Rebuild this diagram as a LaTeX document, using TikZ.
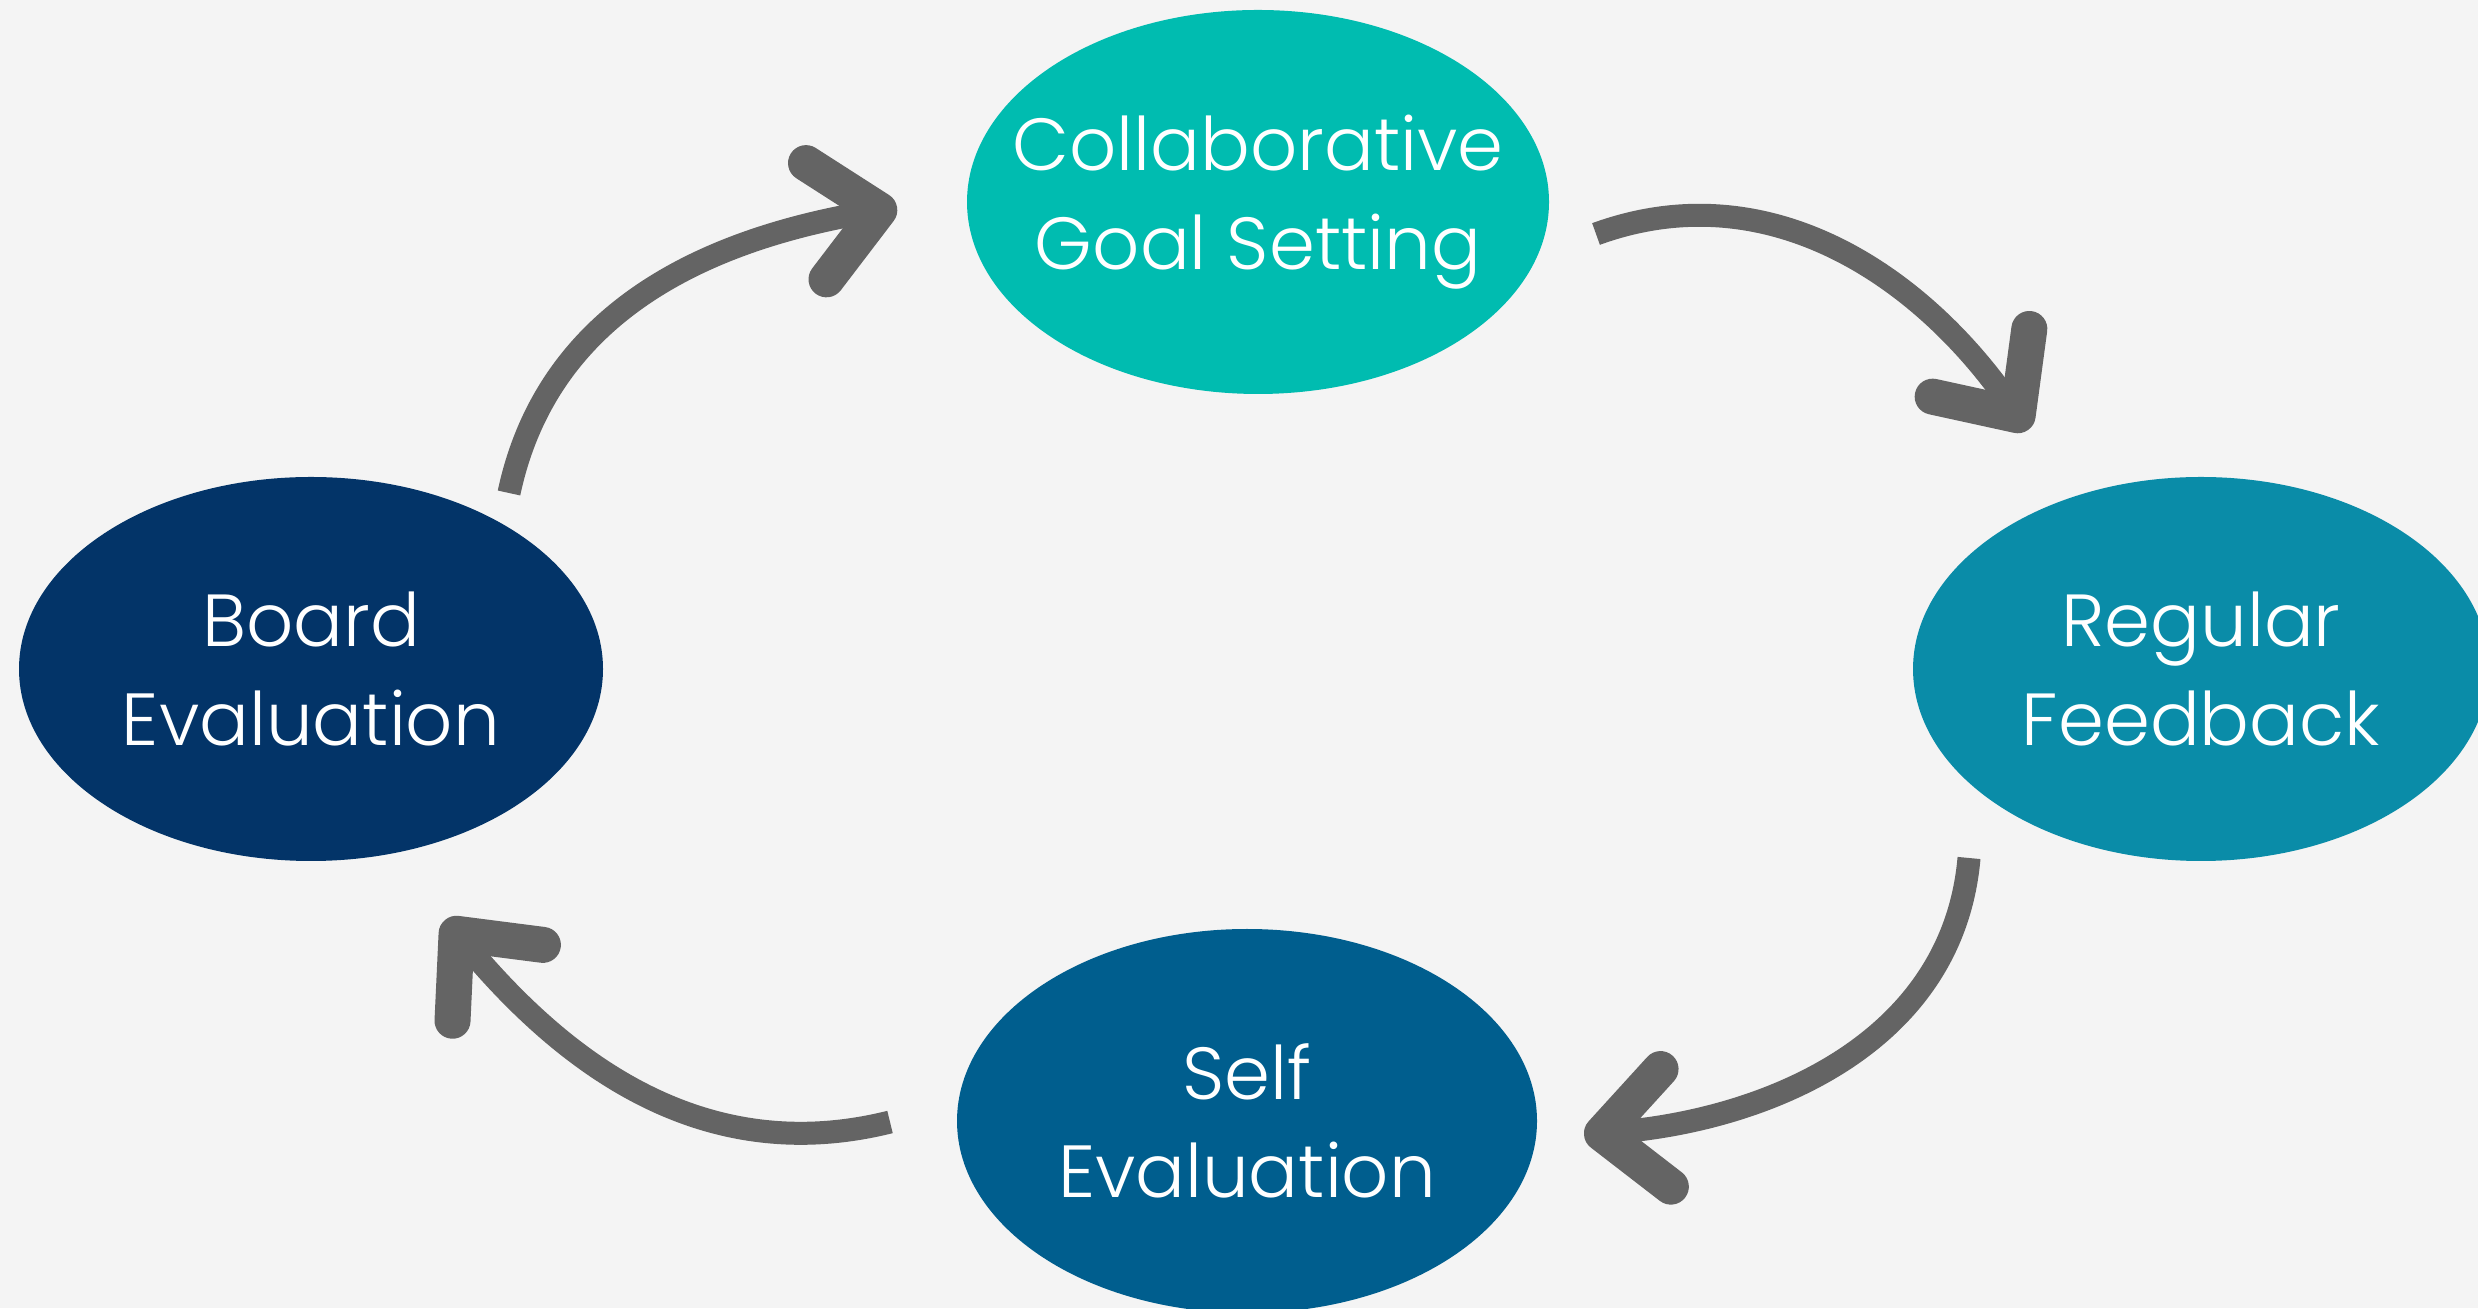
\documentclass[tikz,border=0pt]{standalone}
\usepackage{fontspec}
\setmainfont{Poppins}[UprightFont={* Light}]
\usetikzlibrary{arrows.meta,shapes.geometric}
\definecolor{paper}{RGB}{244,244,244}
\definecolor{goalteal}{RGB}{0,188,176}
\definecolor{fbteal}{RGB}{10,140,168}
\definecolor{boardnavy}{RGB}{3,52,104}
\definecolor{selfblue}{RGB}{0,94,142}
\definecolor{arrowgray}{RGB}{100,100,100}

\begin{document}
\begin{tikzpicture}[
    stage/.style={ellipse, minimum width=5.82cm, minimum height=3.84cm, inner xsep=-0.9cm, inner ysep=-0.6cm, text=white, align=center, font=\fontsize{21}{28}\selectfont},
    flow/.style={-{Straight Barb[length=0.64cm, width=1.18cm, line width=0.36cm, round]}, line width=0.23cm, draw=arrowgray}
  ]
  \fill[paper] (0,0) rectangle (24.78,13.08);
  \useasboundingbox (0,0) rectangle (24.78,13.08);

  % the four stages of the cycle
  \node[stage, fill=goalteal] (goal) at (12.58,11.06) {Collaborative\\Goal Setting};
  \node[stage, fill=fbteal, minimum width=5.76cm] (feedback) at (22.01,6.39) {Regular\\Feedback};
  \node[stage, fill=selfblue, minimum width=5.80cm] (self) at (12.47,1.87) {Self\\Evaluation};
  \node[stage, fill=boardnavy, minimum width=5.84cm] (board) at (3.11,6.39) {Board\\Evaluation};

  % loose ends of the hand drawn arrows
  \coordinate (goal-out) at (15.96,10.74);
  \coordinate (fb-in) at (20.28,8.78);
  \coordinate (fb-out) at (19.69,4.50);
  \coordinate (self-in) at (15.84,1.73);
  \coordinate (self-out) at (8.90,1.86);
  \coordinate (board-in) at (4.45,3.88);
  \coordinate (board-out) at (5.09,8.15);
  \coordinate (goal-in) at (8.97,11.01);

  \draw[flow] (goal-out) to[out=20, in=125] (fb-in);
  \draw[flow] (fb-out) to[out=-95, in=5] (self-in);
  \draw[flow] (self-out) to[out=194, in=-50] (board-in);
  \draw[flow] (board-out) to[out=78, in=190] (goal-in);
\end{tikzpicture}
\end{document}
